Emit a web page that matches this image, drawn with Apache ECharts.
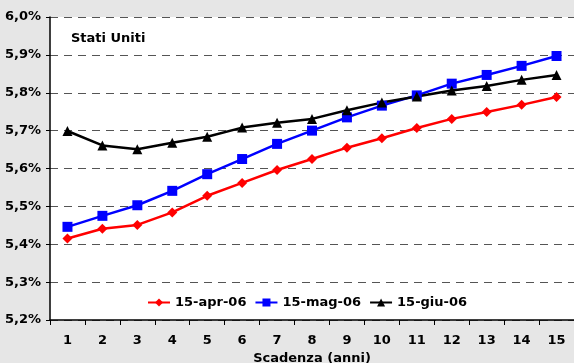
<!DOCTYPE html>
<html>
<head>
<meta charset="utf-8">
<script src="https://cdn.jsdelivr.net/npm/echarts@6/dist/echarts.min.js"></script>
<style>
  html, body { margin: 0; padding: 0; background: #e6e6e6; }
  #chart { width: 574px; height: 363px; }
</style>
</head>
<body>
<div id="chart"></div>
<script>
// Yield curve, US Treasury — maturities in years
const maturities = ['1','2','3','4','5','6','7','8','9','10','11','12','13','14','15'];

const seriesNames = ['15-apr-06', '15-mag-06', '15-giu-06'];

const apr06 = [5.415, 5.441, 5.451, 5.484, 5.528, 5.562, 5.596, 5.625, 5.655, 5.680, 5.707, 5.731, 5.749, 5.768, 5.789];
const mag06 = [5.446, 5.475, 5.503, 5.541, 5.585, 5.625, 5.665, 5.700, 5.735, 5.766, 5.793, 5.824, 5.847, 5.871, 5.897];
const giu06 = [5.699, 5.661, 5.651, 5.668, 5.684, 5.708, 5.721, 5.731, 5.754, 5.774, 5.790, 5.806, 5.818, 5.834, 5.847];

const yTicks = { min: 5.2, max: 6.0, step: 0.1 };

const FONT = 'DejaVu Sans';

const chart = echarts.init(document.getElementById('chart'), null, { renderer: 'canvas' });

function lineSeries(name, data, color, symbol, size) {
  return {
    name: name,
    type: 'line',
    data: data,
    symbol: symbol,
    symbolSize: size,
    showSymbol: true,
    lineStyle: { color: color, width: 2.5 },
    itemStyle: { color: color },
    emphasis: { disabled: true },
    animation: false
  };
}

chart.setOption({
  backgroundColor: '#e6e6e6',
  animation: false,
  title: {
    text: 'Stati Uniti',
    left: 66,
    top: 27,
    textStyle: { fontFamily: FONT, fontWeight: 'bold', fontSize: 13, color: '#000' }
  },
  grid: {
    left: 50, right: 0, top: 17, bottom: 43,
    outerBoundsMode: 'none',
    containLabel: false,
    show: true, backgroundColor: '#ffffff', borderWidth: 0
  },
  legend: {
    data: seriesNames,
    left: 142,
    top: 291,
    itemWidth: 22,
    itemHeight: 10,
    itemGap: 8,
    textStyle: { fontFamily: FONT, fontWeight: 'bold', fontSize: 13, color: '#000' }
  },
  xAxis: {
    type: 'category',
    data: maturities,
    boundaryGap: true,
    name: 'Scadenza (anni)',
    nameLocation: 'middle',
    nameGap: 32,
    nameTextStyle: { fontFamily: FONT, fontWeight: 'bold', fontSize: 13, color: '#000' },
    axisLine: { lineStyle: { color: '#000', width: 1.5 } },
    axisTick: { show: true, length: 5, lineStyle: { color: '#000' }, alignWithLabel: false },
    axisLabel: { fontFamily: FONT, fontWeight: 'bold', fontSize: 13, color: '#000', margin: 14 },
    splitLine: { show: false }
  },
  yAxis: {
    type: 'value',
    min: yTicks.min,
    max: yTicks.max,
    interval: yTicks.step,
    axisLine: { show: true, lineStyle: { color: '#000', width: 1.5 } },
    axisTick: { show: true, length: 4, lineStyle: { color: '#000' } },
    axisLabel: {
      fontFamily: FONT, fontWeight: 'bold', fontSize: 13, color: '#000', margin: 9,
      formatter: v => v.toFixed(1).replace('.', ',') + '%'
    },
    splitLine: { show: true, lineStyle: { color: '#555', type: [8, 6], width: 1 } }
  },
  series: [
    lineSeries(seriesNames[0], apr06, '#ff0000', 'diamond', 10),
    lineSeries(seriesNames[1], mag06, '#0000ff', 'rect', 10),
    lineSeries(seriesNames[2], giu06, '#000000', 'triangle', 10)
  ]
});
</script>
</body>
</html>
